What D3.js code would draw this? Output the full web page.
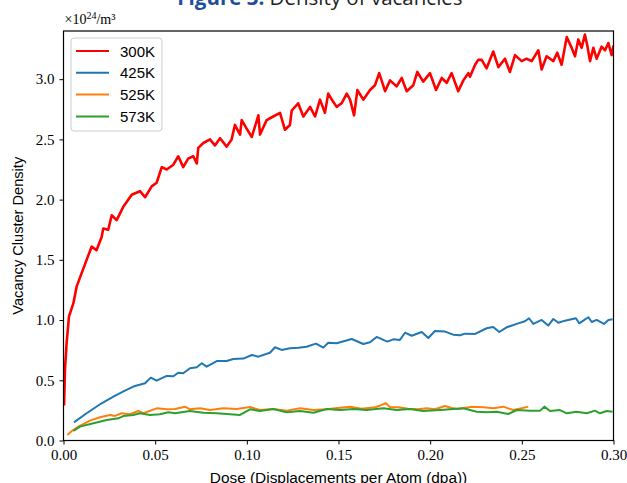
<!DOCTYPE html>
<html><head><meta charset="utf-8">
<script src="https://cdn.jsdelivr.net/npm/d3@7"></script>
<style>body{margin:0;background:#fff}svg{display:block}</style>
</head><body>
<svg id="c" width="627" height="483"></svg>
<script>
const xTicks = [0, 0.05, 0.10, 0.15, 0.20, 0.25, 0.30];
const yTicks = [0, 0.5, 1.0, 1.5, 2.0, 2.5, 3.0];
const seriesNames = ["300K", "425K", "525K", "573K"];
const seriesColors = ["#ff0000", "#1f77b4", "#ff7f0e", "#2ca02c"];

const dose300 = [0.0003,0.0008,0.0017,0.003,0.0054,0.0072,0.0099,0.0126,0.0154,0.018,0.0208,0.0217,0.0244,0.0263,0.029,0.0326,0.0354,0.0372,0.0417,0.0445,0.0481,0.0508,0.0536,0.0563,0.0599,0.0626,0.0653,0.068,0.0708,0.0727,0.0735,0.0763,0.0799,0.0826,0.0854,0.089,0.0917,0.0935,0.0963,0.0972,0.0999,0.1027,0.1063,0.1072,0.1108,0.1144,0.1181,0.1208,0.1235,0.1245,0.128,0.1308,0.1345,0.1372,0.1399,0.1426,0.1444,0.1472,0.149,0.1517,0.1545,0.1563,0.1585,0.1603,0.1635,0.1672,0.1699,0.1722,0.1754,0.1781,0.1817,0.1845,0.1872,0.1908,0.193,0.1962,0.1999,0.2032,0.2063,0.209,0.2117,0.2153,0.2181,0.2208,0.2217,0.2245,0.2262,0.2281,0.2308,0.2344,0.2372,0.2408,0.2435,0.2463,0.2499,0.2526,0.2554,0.259,0.2608,0.2635,0.2672,0.2693,0.2717,0.2745,0.2772,0.279,0.2808,0.2826,0.2844,0.2857,0.2872,0.289,0.2908,0.2935,0.2954,0.2972,0.299,0.3];
const dens300 = [0.29,0.59,0.81,1.03,1.14,1.28,1.39,1.50,1.61,1.58,1.69,1.76,1.75,1.87,1.83,1.94,2.00,2.04,2.07,2.02,2.11,2.14,2.27,2.25,2.29,2.36,2.27,2.34,2.36,2.30,2.43,2.47,2.50,2.45,2.51,2.44,2.50,2.62,2.54,2.66,2.59,2.52,2.70,2.54,2.66,2.69,2.72,2.58,2.62,2.74,2.80,2.69,2.77,2.69,2.83,2.72,2.88,2.81,2.77,2.80,2.88,2.83,2.70,2.91,2.83,2.91,2.95,3.05,2.90,2.99,2.94,3.01,2.90,2.95,3.06,2.98,3.05,2.91,3.01,2.97,3.05,2.90,2.99,3.05,3.02,3.12,3.16,3.16,3.09,3.23,3.10,3.17,3.06,3.20,3.15,3.17,3.15,3.24,3.08,3.19,3.15,3.22,3.12,3.35,3.26,3.19,3.33,3.26,3.37,3.28,3.15,3.26,3.17,3.27,3.24,3.30,3.20,3.28];

const dose425 = [0.0057,0.0126,0.0208,0.0272,0.0335,0.039,0.0445,0.0476,0.0508,0.0563,0.0599,0.0626,0.0653,0.069,0.0727,0.0754,0.0781,0.0836,0.089,0.0926,0.0981,0.1027,0.1063,0.1126,0.1154,0.119,0.1235,0.1281,0.1326,0.1377,0.1417,0.1444,0.149,0.1572,0.1635,0.1672,0.1708,0.1766,0.1799,0.1835,0.1863,0.1899,0.1954,0.199,0.2026,0.2081,0.2126,0.2163,0.219,0.2245,0.2308,0.2344,0.2377,0.2417,0.2472,0.2517,0.2539,0.2563,0.2608,0.2644,0.2672,0.2699,0.2735,0.2795,0.2813,0.2835,0.2863,0.2881,0.2908,0.2948,0.2972,0.2995];
const dens425 = [0.151,0.226,0.309,0.364,0.414,0.453,0.475,0.522,0.497,0.536,0.533,0.563,0.558,0.600,0.608,0.641,0.613,0.660,0.660,0.677,0.680,0.710,0.696,0.729,0.774,0.752,0.766,0.771,0.779,0.804,0.771,0.812,0.807,0.843,0.801,0.815,0.860,0.821,0.840,0.835,0.895,0.870,0.901,0.851,0.909,0.904,0.879,0.874,0.887,0.885,0.932,0.943,0.901,0.940,0.968,0.990,1.015,0.968,1.001,0.954,1.009,0.978,0.995,1.015,0.973,0.995,1.023,0.984,1.001,0.968,1.001,1.007];

const dose525 = [0.0021,0.0045,0.0081,0.0145,0.0199,0.0254,0.0281,0.0317,0.0363,0.0408,0.0435,0.0508,0.0563,0.0608,0.0663,0.069,0.0745,0.0799,0.0872,0.0945,0.1017,0.1072,0.1144,0.1217,0.129,0.1363,0.1436,0.1508,0.1563,0.1626,0.1699,0.1726,0.1757,0.1781,0.1826,0.1881,0.1935,0.1981,0.2026,0.2081,0.2117,0.2153,0.2226,0.229,0.2344,0.2399,0.2453,0.2499,0.2535];
const dens525 = [0.046,0.079,0.115,0.165,0.193,0.212,0.204,0.226,0.218,0.245,0.226,0.267,0.259,0.262,0.281,0.259,0.267,0.253,0.267,0.262,0.278,0.253,0.262,0.248,0.267,0.253,0.259,0.272,0.281,0.264,0.276,0.289,0.311,0.276,0.276,0.264,0.259,0.267,0.259,0.287,0.270,0.262,0.281,0.276,0.267,0.281,0.253,0.267,0.281];

const dose573 = [0.0054,0.009,0.0163,0.0236,0.0299,0.0326,0.0381,0.0417,0.0472,0.0526,0.0572,0.0608,0.069,0.0763,0.0836,0.0908,0.0963,0.1017,0.1072,0.1144,0.1217,0.129,0.1363,0.1436,0.1508,0.1581,0.1654,0.1745,0.1817,0.189,0.1962,0.2054,0.2181,0.2254,0.2308,0.2363,0.2426,0.2472,0.2545,0.26,0.2623,0.2654,0.2708,0.2745,0.2799,0.2854,0.2899,0.2926,0.2963,0.2995];
const dens573 = [0.079,0.115,0.143,0.170,0.184,0.203,0.212,0.226,0.212,0.218,0.234,0.226,0.245,0.231,0.226,0.218,0.212,0.259,0.245,0.262,0.234,0.245,0.231,0.262,0.253,0.262,0.253,0.267,0.253,0.262,0.245,0.253,0.267,0.239,0.234,0.239,0.220,0.253,0.248,0.248,0.281,0.245,0.253,0.226,0.239,0.226,0.248,0.226,0.245,0.239];

const series = [
  {name: seriesNames[0], color: seriesColors[0], x: dose300, y: dens300, w: 2.6},
  {name: seriesNames[1], color: seriesColors[1], x: dose425, y: dens425, w: 2},
  {name: seriesNames[2], color: seriesColors[2], x: dose525, y: dens525, w: 2},
  {name: seriesNames[3], color: seriesColors[3], x: dose573, y: dens573, w: 2}
];

const svg = d3.select("#c");
const L = 63.5, R = 613.5, T = 31, B = 440.5;
const x = d3.scaleLinear().domain([0, 0.30]).range([L, R]);
const y = d3.scaleLinear().domain([0, 3.4]).range([B, T]);

// title (partially cut off at the top, as in the reference)
const title = svg.append("text").attr("x", 320).attr("y", 5).attr("text-anchor", "middle")
  .style("font-family", "'Open Sans', sans-serif").style("font-size", "20.5px");
title.append("tspan").attr("fill", "#1f4e9a").style("font-weight", "bold").text("Figure 3. ");
title.append("tspan").attr("fill", "#222").text("Density of vacancies");

svg.append("clipPath").attr("id", "clip").append("rect")
  .attr("x", L).attr("y", T).attr("width", R - L).attr("height", B - T);

const line = d3.line().x(d => x(d[0])).y(d => y(d[1]));
const g = svg.append("g").attr("clip-path", "url(#clip)");
series.forEach(s => {
  const pts = s.x.map((v, i) => [v, s.y[i]]);
  g.append("path").datum(pts).attr("d", line).attr("fill", "none")
    .attr("stroke", s.color).attr("stroke-width", s.w).attr("stroke-linejoin", "round");
});

const serif = "'Liberation Serif', 'Times New Roman', serif";
const xAxis = svg.append("g").attr("transform", `translate(0,${B})`)
  .call(d3.axisBottom(x).tickValues(xTicks).tickFormat(d3.format(".2f")).tickSize(4).tickPadding(5));
const yAxis = svg.append("g").attr("transform", `translate(${L},0)`)
  .call(d3.axisLeft(y).tickValues(yTicks).tickFormat(d3.format(".1f")).tickSize(4).tickPadding(5));
[xAxis, yAxis].forEach(a => {
  a.select(".domain").remove();
  a.selectAll("line").attr("stroke", "#000").attr("stroke-width", 1);
  a.selectAll("text").attr("fill", "#000").style("font-family", serif).style("font-size", "15px");
});

svg.append("rect").attr("x", L).attr("y", T).attr("width", R - L).attr("height", B - T)
  .attr("fill", "none").attr("stroke", "#000").attr("stroke-width", 1.2);

const mult = svg.append("text").attr("x", L + 1).attr("y", 24)
  .style("font-family", serif).style("font-size", "14px").attr("fill", "#000");
mult.append("tspan").text("×10");
mult.append("tspan").attr("dy", -5).style("font-size", "10px").text("24");
mult.append("tspan").attr("dy", 5).text("/m³");

const sans = "'Liberation Sans', Arial, sans-serif";
svg.append("text").attr("x", (L + R) / 2).attr("y", 483).attr("text-anchor", "middle")
  .style("font-family", sans).style("font-size", "15.4px").text("Dose (Displacements per Atom (dpa))");
svg.append("text").attr("transform", `translate(23,${(T + B) / 2}) rotate(-90)`).attr("text-anchor", "middle")
  .style("font-family", sans).style("font-size", "14.6px").text("Vacancy Cluster Density");

const lg = svg.append("g");
lg.append("rect").attr("x", 71).attr("y", 38).attr("width", 91).attr("height", 93).attr("rx", 3)
  .attr("fill", "#fff").attr("fill-opacity", 0.8).attr("stroke", "#cccccc");
series.forEach((s, i) => {
  const yy = 51 + i * 21.8;
  lg.append("line").attr("x1", 76).attr("x2", 109).attr("y1", yy).attr("y2", yy)
    .attr("stroke", s.color).attr("stroke-width", 2);
  lg.append("text").attr("x", 120).attr("y", yy + 5.5).style("font-family", sans).style("font-size", "15px")
    .attr("fill", "#000").text(s.name);
});
</script>
</body></html>
